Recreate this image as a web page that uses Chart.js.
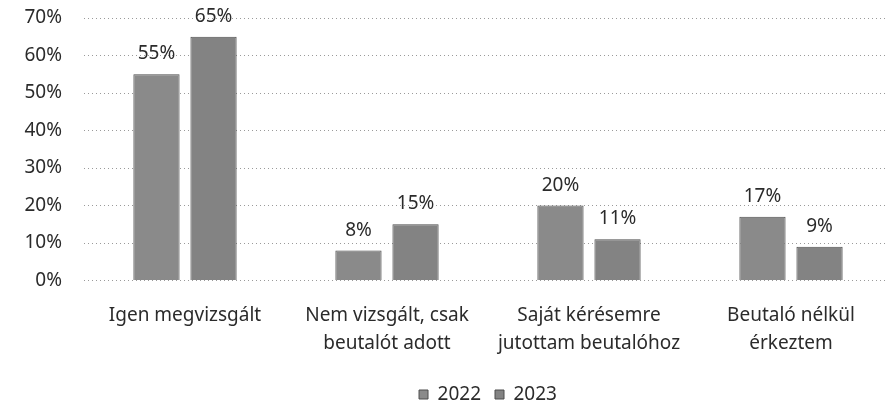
<!DOCTYPE html>
<html>
<head>
<meta charset="utf-8">
<script src="https://cdn.jsdelivr.net/npm/chart.js"></script>
<style>
  html, body { margin: 0; padding: 0; background: #fff; overflow: hidden; }
  #wrap { width: 892px; height: 404px; }
</style>
</head>
<body>
<div id="wrap"><canvas id="myChart"></canvas></div>
<script>
const categories = [
    'Igen megvizsgált',
    ['Nem vizsgált, csak', 'beutalót adott'],
    ['Saját kérésemre', 'jutottam beutalóhoz'],
    ['Beutaló nélkül', 'érkeztem']
];
const values2022 = [55, 8, 20, 17];
const values2023 = [65, 15, 11, 9];
const yTicks = [0, 10, 20, 30, 40, 50, 60, 70];

const textColor = '#2b2b2b';
const font = { family: "'Noto Sans', sans-serif", size: 19 };

// value labels above the bars
const barLabels = {
    id: 'barLabels',
    afterDatasetsDraw(chart) {
        const c = chart.ctx;
        c.save();
        c.font = "19px 'Noto Sans', sans-serif";
        c.fillStyle = textColor;
        c.textAlign = 'center';
        c.textBaseline = 'alphabetic';
        chart.data.datasets.forEach((ds, i) => {
            chart.getDatasetMeta(i).data.forEach((bar, j) => {
                c.fillText(ds.data[j] + '%', bar.x, bar.y - 15);
            });
        });
        c.restore();
    }
};

const ctx = document.getElementById('myChart');

new Chart(ctx, {
    type: 'bar',
    data: {
        labels: categories,
        datasets: [{
            label: '2022',
            data: values2022,
            backgroundColor: '#8a8a8a',
            borderColor: '#4d4d4d',
            borderWidth: 1,
            categoryPercentage: 0.565,
            barPercentage: 0.81,
        }, {
            label: '2023',
            data: values2023,
            backgroundColor: '#838383',
            borderColor: '#4d4d4d',
            borderWidth: 1,
            categoryPercentage: 0.565,
            barPercentage: 0.81,
        }]
    },
    options: {
        responsive: true,
        maintainAspectRatio: false,
        animation: false,
        layout: {
            padding: { top: 18, right: 0, bottom: -10, left: 0 }
        },
        scales: {
            y: {
                min: 0,
                max: 70,
                afterBuildTicks: (s) => { s.ticks = yTicks.map(v => ({ value: v })); },
                afterFit: (s) => {
                    s.width = 84;
                    s.paddingTop = 0;
                    s.paddingBottom = 0;
                },
                border: { display: false, dash: [1, 3] },
                grid: {
                    color: '#9a9a9a',
                    lineWidth: 1,
                    drawTicks: false,
                },
                ticks: {
                    padding: 22,
                    color: textColor,
                    font: font,
                    callback: (v) => v + '%',
                },
            },
            x: {
                border: { display: false },
                grid: { display: false },
                ticks: {
                    padding: 13.7,
                    color: textColor,
                    font: { family: font.family, size: 19, lineHeight: 1.45 },
                    maxRotation: 0,
                    autoSkip: false,
                },
            },
        },
        plugins: {
            legend: {
                position: 'bottom',
                fullSize: false,
                labels: {
                    boxWidth: 9,
                    boxHeight: 9,
                    padding: 14,
                    color: textColor,
                    font: font,
                },
            },
            tooltip: { enabled: false },
        },
    },
    plugins: [barLabels],
});
</script>
</body>
</html>
